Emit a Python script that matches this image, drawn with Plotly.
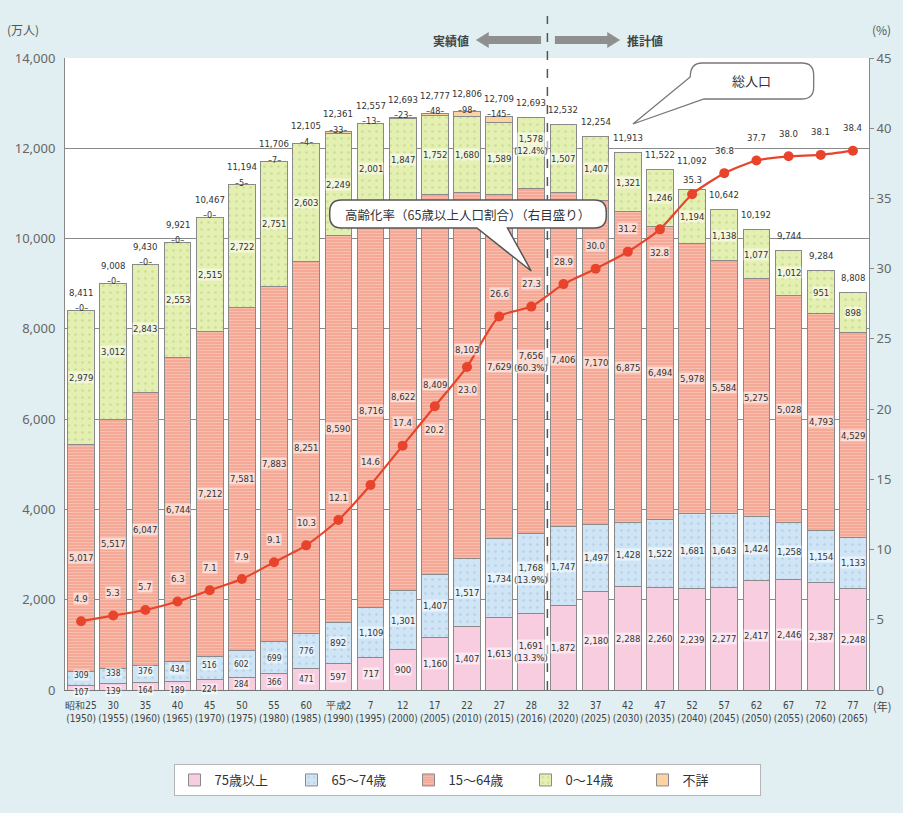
import plotly.graph_objects as go

# ---------------- data ----------------
era_labels = ["昭和25", "30", "35", "40", "45", "50", "55", "60", "平成2", "7", "12", "17", "22",
              "27", "28", "32", "37", "42", "47", "52", "57", "62", "67", "72", "77"]
years = [1950, 1955, 1960, 1965, 1970, 1975, 1980, 1985, 1990, 1995, 2000, 2005, 2010,
         2015, 2016, 2020, 2025, 2030, 2035, 2040, 2045, 2050, 2055, 2060, 2065]
age75_plus = [107, 139, 164, 189, 224, 284, 366, 471, 597, 717, 900, 1160, 1407,
              1613, 1691, 1872, 2180, 2288, 2260, 2239, 2277, 2417, 2446, 2387, 2248]
age65_74 = [309, 338, 376, 434, 516, 602, 699, 776, 892, 1109, 1301, 1407, 1517,
            1734, 1768, 1747, 1497, 1428, 1522, 1681, 1643, 1424, 1258, 1154, 1133]
age15_64 = [5017, 5517, 6047, 6744, 7212, 7581, 7883, 8251, 8590, 8716, 8622, 8409, 8103,
            7629, 7656, 7406, 7170, 6875, 6494, 5978, 5584, 5275, 5028, 4793, 4529]
age0_14 = [2979, 3012, 2843, 2553, 2515, 2722, 2751, 2603, 2249, 2001, 1847, 1752, 1680,
           1589, 1578, 1507, 1407, 1321, 1246, 1194, 1138, 1077, 1012, 951, 898]
unknown = [0, 0, 0, 0, 0, 5, 7, 4, 33, 13, 23, 48, 98, 145,
           0, 0, 0, 0, 0, 0, 0, 0, 0, 0, 0]
unknown_shown = 14  # first 14 bars carry a 不詳 label
totals = [8411, 9008, 9430, 9921, 10467, 11194, 11706, 12105, 12361, 12557, 12693, 12777, 12806,
          12709, 12693, 12532, 12254, 11913, 11522, 11092, 10642, 10192, 9744, 9284, 8808]
aging_rate = [4.9, 5.3, 5.7, 6.3, 7.1, 7.9, 9.1, 10.3, 12.1, 14.6, 17.4, 20.2, 23.0,
              26.6, 27.3, 28.9, 30.0, 31.2, 32.8, 35.3, 36.8, 37.7, 38.0, 38.1, 38.4]
share_2016 = {"75": "(13.3%)", "65": "(13.9%)", "15": "(60.3%)", "0": "(12.4%)"}
idx_2016 = 14
rate_label_below = {2005, 2010, 2035}   # years whose rate label sits under the marker

x_cats = [f"{e}<br>({y})" for e, y in zip(era_labels, years)]

# ---------------- style ----------------
FONT = "Noto Sans CJK JP"
NUM_FONT = "DejaVu Sans Condensed, Liberation Sans Narrow, Noto Sans"
C75 = "#f8cddf"
C65 = "#cfe5f5"
C15 = "#f5a896"
C0 = "#e4efb2"
CUNK = "#fcd3a2"
LINE = "#e8442b"
OUTLINE = "#8a8a8a"

L, R, T, B = 65, 879, 58, 690
W, H = 903, 813


def P(px, py):
    return f"{(px - L) / (R - L):.5f},{(B - py) / (B - T):.5f}"


def PX(px):
    return (px - L) / (R - L)


def PY(py):
    return (B - py) / (B - T)


fig = go.Figure()

line_style = dict(color=OUTLINE, width=1)
fig.add_bar(x=x_cats, y=age75_plus, name="75歳以上", marker=dict(color=C75, line=line_style))
fig.add_bar(x=x_cats, y=age65_74, name="65～74歳",
            marker=dict(color=C65, line=line_style,
                        pattern=dict(shape=".", fgcolor="#9dbfd8", size=7, solidity=0.12,
                                     fillmode="overlay")))
fig.add_bar(x=x_cats, y=age15_64, name="15～64歳",
            marker=dict(color=C15, line=line_style,
                        pattern=dict(shape="-", fgcolor="#fbd3c6", size=3, solidity=0.35,
                                     fillmode="overlay")))
fig.add_bar(x=x_cats, y=age0_14, name="0～14歳",
            marker=dict(color=C0, line=line_style,
                        pattern=dict(shape=".", fgcolor="#b7cb7a", size=7, solidity=0.12,
                                     fillmode="overlay")))
fig.add_bar(x=x_cats, y=unknown, name="不詳", marker=dict(color=CUNK, line=line_style))

fig.add_scatter(x=x_cats, y=aging_rate, yaxis="y2", mode="lines+markers", showlegend=False,
                line=dict(color=LINE, width=2.2, shape="spline", smoothing=0.6),
                marker=dict(color=LINE, size=10))

# ---------------- labels ----------------
ann = []


def lab(x, y, text, yref="y", yshift=0, size=9.5, bg="rgba(255,255,255,0.55)"):
    ann.append(dict(x=x, y=y, xref="x", yref=yref, text=text, showarrow=False, yshift=yshift,
                    xanchor="center", yanchor="middle",
                    font=dict(family=NUM_FONT, size=size, color="#333333"),
                    bgcolor=bg, borderpad=0))


for i, xc in enumerate(x_cats):
    b1 = age75_plus[i]
    b2 = b1 + age65_74[i]
    b3 = b2 + age15_64[i]
    b4 = b3 + age0_14[i]
    top = b4 + unknown[i]
    if i == idx_2016:
        t75 = f"{age75_plus[i]:,}<br>{share_2016['75']}"
        t65 = f"{age65_74[i]:,}<br>{share_2016['65']}"
        t15 = f"{age15_64[i]:,}<br>{share_2016['15']}"
        t0 = f"{age0_14[i]:,}<br>{share_2016['0']}"
    else:
        t75, t65, t15, t0 = (f"{age75_plus[i]:,}", f"{age65_74[i]:,}",
                             f"{age15_64[i]:,}", f"{age0_14[i]:,}")
    lab(xc, b1 / 2, t75, yshift=(-4 if i < 5 else 0), size=(8.5 if i < 8 else 9.5))
    lab(xc, (b1 + b2) / 2, t65, yshift=(3 if i < 5 else 0), size=(8.5 if i < 8 else 9.5))
    lab(xc, (b2 + b3) / 2, t15, yshift=(26 if years[i] == 2010 else 0))
    lab(xc, (b3 + b4) / 2, t0, yshift=(8 if i == idx_2016 else 0))
    if i < unknown_shown:
        lab(xc, top, f"–{unknown[i]:,}–", yshift=2, size=9, bg="rgba(0,0,0,0)")
        lab(xc, top, f"{totals[i]:,}", yshift=18, size=9.5, bg="rgba(0,0,0,0)")
    else:
        lab(xc, top, f"{totals[i]:,}", yshift=(29 if years[i] == 2040 else 15), size=9.5,
            bg="rgba(0,0,0,0)")
    if years[i] in rate_label_below:
        rshift = -23
    elif years[i] == 2040:
        rshift = 15
    else:
        rshift = 23
    lab(xc, aging_rate[i], f"{aging_rate[i]:.1f}", yref="y2", yshift=rshift)


def pann(px, py, text, size=12, color="#444", xanchor="center"):
    ann.append(dict(xref="paper", yref="paper", x=PX(px), y=PY(py), text=text, showarrow=False,
                    xanchor=xanchor, yanchor="middle",
                    font=dict(family=FONT, size=size, color=color)))


pann(22, 30, "(万人)", color="#555")
pann(903, 30, "(%)", color="#555", xanchor="right")
pann(892, 706, "(年)", size=11)
pann(456, 40, "<b>実績値</b>")
pann(652, 40, "<b>推計値</b>")
pann(760, 81, "総人口", size=13, color="#333")
pann(473, 214, "高齢化率（65歳以上人口割合）（右目盛り）", size=12.5, color="#333")

# ---------------- shapes ----------------
shapes = []
# divider between actual and projected
shapes.append(dict(type="line", xref="x", yref="paper", x0=14.5, x1=14.5, y0=0,
                   y1=PY(16), line=dict(color="#555", width=1.5, dash="dash")))
# block arrows
ARW = "#8f8f8f"
shapes.append(dict(type="path", xref="paper", yref="paper", fillcolor=ARW, line=dict(width=0),
                   layer="above",
                   path=f"M{P(481,40)} L{P(494,32)} L{P(494,36)} L{P(547,36)} L{P(547,44)} "
                        f"L{P(494,44)} L{P(494,48)} Z"))
shapes.append(dict(type="path", xref="paper", yref="paper", fillcolor=ARW, line=dict(width=0),
                   layer="above",
                   path=f"M{P(627,40)} L{P(614,32)} L{P(614,36)} L{P(561,36)} L{P(561,44)} "
                        f"L{P(614,44)} L{P(614,48)} Z"))
# bubble: 総人口
x0, x1, y0, y1, r = 698, 823, 63, 99, 12
shapes.append(dict(type="path", xref="paper", yref="paper", fillcolor="white", opacity=1,
                   layer="above", line=dict(color="#777", width=1.3),
                   path=f"M{P(x0+r,y0)} L{P(x1-r,y0)} Q{P(x1,y0)} {P(x1,y0+r)} L{P(x1,y1-r)} "
                        f"Q{P(x1,y1)} {P(x1-r,y1)} L{P(x0+14,y1)} L{P(640,124)} L{P(x0,y0+14)} "
                        f"Q{P(x0,y0)} {P(x0+r,y0)} Z"))
# bubble: 高齢化率
x0, x1, y0, y1, r = 333, 613, 200, 228, 12
shapes.append(dict(type="path", xref="paper", yref="paper", fillcolor="white", opacity=1,
                   layer="above", line=dict(color="#555", width=1.5),
                   path=f"M{P(x0+r,y0)} L{P(x1-r,y0)} Q{P(x1,y0)} {P(x1,y0+r)} L{P(x1,y1-r)} "
                        f"Q{P(x1,y1)} {P(x1-r,y1)} L{P(513,y1)} L{P(537,271)} L{P(482,y1)} "
                        f"L{P(x0+r,y1)} Q{P(x0,y1)} {P(x0,y1-r)} L{P(x0,y0+r)} "
                        f"Q{P(x0,y0)} {P(x0+r,y0)} Z"))

fig.update_layout(
    width=W, height=H,
    margin=dict(l=L, r=W - R, t=T, b=H - B),
    paper_bgcolor="#e1eff2",
    plot_bgcolor="white",
    barmode="stack",
    bargap=0.17,
    font=dict(family=FONT, color="#444"),
    showlegend=True,
    legend=dict(orientation="h", x=0.5, xanchor="center", y=PY(764), yanchor="top",
                bgcolor="white", bordercolor="#b5b5b5", borderwidth=1,
                font=dict(family=FONT, size=13, color="#333"), traceorder="normal",
                itemwidth=30, entrywidth=72, entrywidthmode="pixels"),
    xaxis=dict(type="category", tickangle=0,
               tickfont=dict(family=NUM_FONT, size=10, color="#444"),
               showline=True, linecolor="#777", ticks="", range=[-0.5, 24.5], fixedrange=True,
               ticklabelstandoff=6),
    yaxis=dict(range=[0, 14000], dtick=2000, tickformat=",", showgrid=True, gridcolor="#8a8a8a",
               gridwidth=1.2, showline=True, linecolor="#888", mirror=True, zeroline=False,
               tickfont=dict(family="Noto Sans", size=13, color="#666"), ticks="",
               ticklabelstandoff=6),
    yaxis2=dict(range=[0, 45], dtick=5, overlaying="y", side="right", showgrid=False,
                zeroline=False, showline=True, linecolor="#888", ticks="outside", ticklen=4,
                tickcolor="#888", tickfont=dict(family="Noto Sans", size=13, color="#666")),
    annotations=ann,
    shapes=shapes,
)

fig.write_html("out.html")
